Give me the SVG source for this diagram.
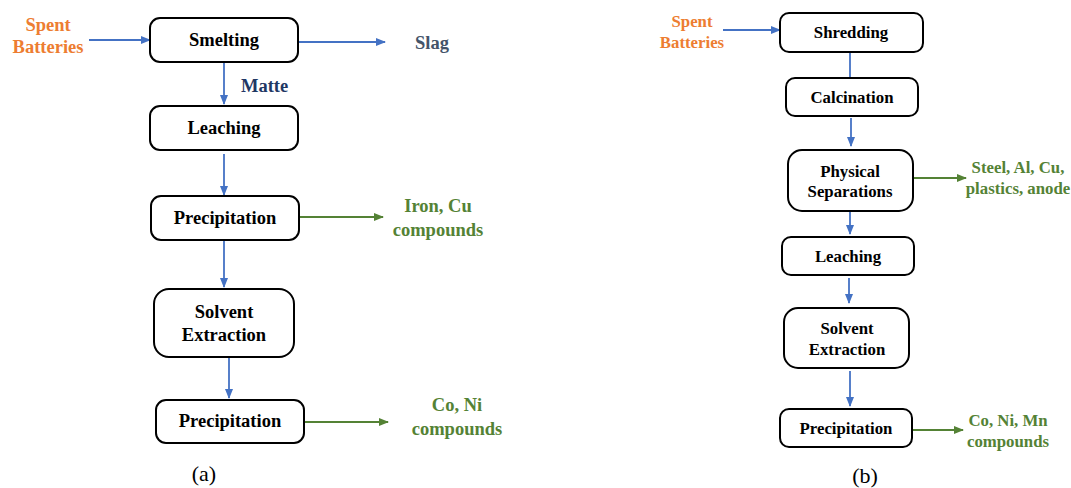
<svg xmlns="http://www.w3.org/2000/svg" width="1071" height="488" viewBox="0 0 1071 488">
<defs>
<marker id="ab" markerWidth="10" markerHeight="8" refX="9" refY="4" orient="auto" markerUnits="userSpaceOnUse"><path d="M0,0 L10,4 L0,8 z" fill="#4472C4"/></marker>
<marker id="ag" markerWidth="10" markerHeight="8" refX="9" refY="4" orient="auto" markerUnits="userSpaceOnUse"><path d="M0,0 L10,4 L0,8 z" fill="#548235"/></marker>
<style>
.box{fill:#fff;stroke:#000;stroke-width:2}
.t{font-family:'Liberation Serif','DejaVu Serif',serif;font-weight:bold;text-anchor:middle;fill:#000}
.L{font-size:18.5px}
.R{font-size:16.8px}
.or{fill:#ED7D31}
.gr{fill:#548235}
.cap{font-family:'Liberation Serif','DejaVu Serif',serif;font-size:22px;text-anchor:middle;fill:#000}
.b{stroke:#4472C4;stroke-width:1.8;fill:none}
.g{stroke:#548235;stroke-width:1.8;fill:none}
</style>
</defs>
<g id="connectors">
<line class="b" x1="89" y1="40" x2="150" y2="40" marker-end="url(#ab)"/>
<line class="b" x1="298" y1="42" x2="385" y2="42" marker-end="url(#ab)"/>
<line class="b" x1="224" y1="63" x2="224" y2="104" marker-end="url(#ab)"/>
<line class="b" x1="224" y1="154" x2="224" y2="195" marker-end="url(#ab)"/>
<line class="g" x1="299" y1="217" x2="383" y2="217" marker-end="url(#ag)"/>
<line class="b" x1="224" y1="241" x2="224" y2="287" marker-end="url(#ab)"/>
<line class="b" x1="229" y1="358" x2="229" y2="398" marker-end="url(#ab)"/>
<line class="g" x1="304" y1="422" x2="388" y2="422" marker-end="url(#ag)"/>
<line class="b" x1="723" y1="30" x2="780" y2="30" marker-end="url(#ab)"/>
<line class="b" x1="850" y1="52" x2="850" y2="78"/>
<line class="b" x1="851" y1="118" x2="851" y2="146" marker-end="url(#ab)"/>
<line class="g" x1="913" y1="178" x2="966" y2="178" marker-end="url(#ag)"/>
<line class="b" x1="850" y1="212" x2="850" y2="234" marker-end="url(#ab)"/>
<line class="b" x1="849" y1="278" x2="849" y2="303" marker-end="url(#ab)"/>
<line class="b" x1="850" y1="371" x2="850" y2="406" marker-end="url(#ab)"/>
<line class="g" x1="912" y1="430" x2="963" y2="430" marker-end="url(#ag)"/>
</g>
<g id="a-input"><text class="t L or" x="48" y="31">Spent</text><text class="t L or" x="48" y="53">Batteries</text></g>
<g id="a-smelting"><rect class="box" x="150" y="18" width="148" height="44" rx="10"/><text class="t L" x="224" y="46" font-family="Liberation Serif">Smelting</text></g>
<g id="a-slag"><text class="t L" x="415" y="49" style="text-anchor:start;fill:#44546A">Slag</text></g>
<g id="a-matte"><text class="t L" x="241" y="92" style="text-anchor:start;fill:#1F3864">Matte</text></g>
<g id="a-leaching"><rect class="box" x="150" y="106" width="148" height="44" rx="10"/><text class="t L" x="224" y="134">Leaching</text></g>
<g id="a-precip1"><rect class="box" x="151" y="196" width="148" height="44" rx="10"/><text class="t L" x="225" y="224">Precipitation</text></g>
<g id="a-ironcu"><text class="t L gr" x="438" y="212">Iron, Cu</text><text class="t L gr" x="438" y="236">compounds</text></g>
<g id="a-solvent"><rect class="box" x="154" y="289" width="140" height="68" rx="15"/><text class="t L" x="224" y="318">Solvent</text><text class="t L" x="224" y="341">Extraction</text></g>
<g id="a-precip2"><rect class="box" x="156" y="400" width="148" height="43" rx="10"/><text class="t L" x="230" y="427">Precipitation</text></g>
<g id="a-coni"><text class="t L gr" x="457" y="411">Co, Ni</text><text class="t L gr" x="457" y="435">compounds</text></g>
<g id="a-caption"><text class="cap" x="204" y="481">(a)</text></g>
<g id="b-input"><text class="t R or" x="692" y="27">Spent</text><text class="t R or" x="692" y="47.5">Batteries</text></g>
<g id="b-shredding"><rect class="box" x="780" y="13" width="143" height="39" rx="9"/><text class="t R" x="851" y="38">Shredding</text></g>
<g id="b-calcination"><rect class="box" x="786" y="78" width="132" height="38" rx="9"/><text class="t R" x="852" y="103">Calcination</text></g>
<g id="b-physical"><rect class="box" x="788" y="150" width="125" height="61" rx="14"/><text class="t R" x="850" y="177">Physical</text><text class="t R" x="850" y="197">Separations</text></g>
<g id="b-steel"><text class="t R gr" x="1018" y="173">Steel, Al, Cu,</text><text class="t R gr" x="1018" y="194">plastics, anode</text></g>
<g id="b-leaching"><rect class="box" x="782" y="237" width="132" height="38" rx="9"/><text class="t R" x="848" y="262">Leaching</text></g>
<g id="b-solvent"><rect class="box" x="784" y="308" width="125" height="60" rx="14"/><text class="t R" x="847" y="334">Solvent</text><text class="t R" x="847" y="355">Extraction</text></g>
<g id="b-precip"><rect class="box" x="780" y="409" width="132" height="38" rx="9"/><text class="t R" x="846" y="434">Precipitation</text></g>
<g id="b-conimn"><text class="t R gr" x="1008" y="426">Co, Ni, Mn</text><text class="t R gr" x="1008" y="447">compounds</text></g>
<g id="b-caption"><text class="cap" x="865" y="483">(b)</text></g>
</svg>
